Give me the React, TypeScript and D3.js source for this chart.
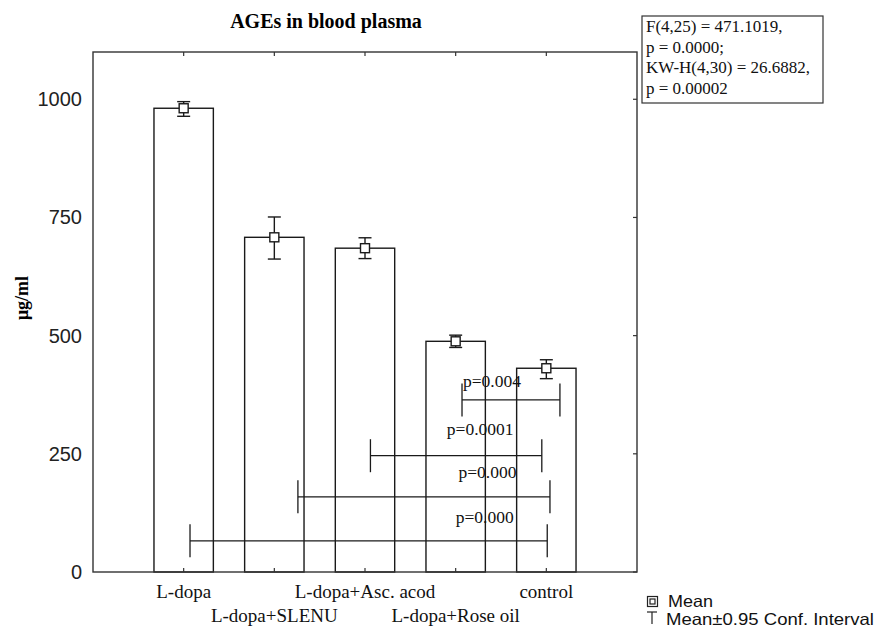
import { useEffect, useRef } from "react";
import * as d3 from "d3";

const width = 877;
const height = 632;
const marginTop = 52;
const marginBottom = 60;
const marginLeft = 93;
const marginRight = 240;

// groups, in axis order
const categories = ["L-dopa", "L-dopa+SLENU", "L-dopa+Asc. acod", "L-dopa+Rose oil", "control"];
const means = [981, 708, 685, 488, 431];
const ciLow = [964, 662, 663, 475, 409];
const ciHigh = [995, 751, 707, 501, 449];
const yTicks = [0, 250, 500, 750, 1000];

// significance brackets (positions on the 0..6 category axis)
const bracketFrom = [4.07, 3.06, 2.26, 1.07];
const bracketTo = [5.15, 4.95, 5.04, 5.01];
const bracketLevel = [364, 246, 159, 66];
const bracketLabel = ["p=0.004", "p=0.0001", "p=0.000", "p=0.000"];
const labelPos = [4.4, 4.27, 4.35, 4.32];
const labelLevel = [392, 290, 199, 104];

const statsLines = ["F(4,25) = 471.1019,", "p = 0.0000;", "KW-H(4,30) = 26.6882,", "p = 0.00002"];

const serif = "'Liberation Serif', 'Times New Roman', serif";
const sans = "'Liberation Sans', Arial, sans-serif";

export default function App() {
  const ref = useRef<SVGSVGElement>(null);

  useEffect(() => {
    const svg = d3.select(ref.current);
    svg.selectAll("*").remove();

    const x = d3.scaleLinear().domain([0, 6]).range([marginLeft, width - marginRight]);
    const y = d3.scaleLinear().domain([0, 1100]).range([height - marginBottom, marginTop]);
    const x0 = x(0), x1 = x(6), yb = y(0), yt = y(1100);
    const step = x(1) - x(0);
    const barW = step * 0.655;
    const ink = "#1a1a1a";

    // title
    svg.append("text")
      .attr("x", 326).attr("y", 28)
      .attr("text-anchor", "middle")
      .attr("font-family", serif).attr("font-weight", "bold").attr("font-size", 20)
      .text("AGEs in blood plasma");

    // bars
    const g = svg.append("g");
    categories.forEach((c, i) => {
      const cx = x(i + 1);
      g.append("rect")
        .attr("x", cx - barW / 2).attr("y", y(means[i]))
        .attr("width", barW).attr("height", yb - y(means[i]))
        .attr("fill", "#fff").attr("stroke", ink).attr("stroke-width", 1.4);
      // CI whisker
      g.append("line")
        .attr("x1", cx).attr("x2", cx).attr("y1", y(ciLow[i])).attr("y2", y(ciHigh[i]))
        .attr("stroke", ink).attr("stroke-width", 1.4);
      [ciLow[i], ciHigh[i]].forEach((v) => {
        g.append("line")
          .attr("x1", cx - 6.5).attr("x2", cx + 6.5).attr("y1", y(v)).attr("y2", y(v))
          .attr("stroke", ink).attr("stroke-width", 1.4);
      });
      g.append("rect")
        .attr("x", cx - 4.5).attr("y", y(means[i]) - 4.5)
        .attr("width", 9).attr("height", 9)
        .attr("fill", "#fff").attr("stroke", ink).attr("stroke-width", 1.4);
    });

    // brackets
    bracketFrom.forEach((f, i) => {
      const yy = y(bracketLevel[i]);
      const bg = svg.append("g").attr("stroke", ink).attr("stroke-width", 1.3);
      bg.append("line").attr("x1", x(f)).attr("x2", x(bracketTo[i])).attr("y1", yy).attr("y2", yy);
      [f, bracketTo[i]].forEach((p) => {
        bg.append("line").attr("x1", x(p)).attr("x2", x(p)).attr("y1", yy - 16.5).attr("y2", yy + 16.5);
      });
      svg.append("text")
        .attr("x", x(labelPos[i])).attr("y", y(labelLevel[i]))
        .attr("text-anchor", "middle")
        .attr("font-family", serif).attr("font-size", 17.5).attr("fill", "#111")
        .text(bracketLabel[i]);
    });

    // frame
    svg.append("rect")
      .attr("x", x0).attr("y", yt).attr("width", x1 - x0).attr("height", yb - yt)
      .attr("fill", "none").attr("stroke", "#333").attr("stroke-width", 1.4);

    // category ticks, top and bottom (inside)
    categories.forEach((c, i) => {
      const cx = x(i + 1);
      svg.append("line").attr("x1", cx).attr("x2", cx).attr("y1", yt).attr("y2", yt + 4)
        .attr("stroke", "#333").attr("stroke-width", 1.2);
      svg.append("line").attr("x1", cx).attr("x2", cx).attr("y1", yb).attr("y2", yb - 4)
        .attr("stroke", "#333").attr("stroke-width", 1.2);
      svg.append("text")
        .attr("x", cx).attr("y", i % 2 === 0 ? 598 : 622)
        .attr("text-anchor", "middle")
        .attr("font-family", serif).attr("font-size", 19).attr("fill", "#111")
        .text(c);
    });

    // y axis labels + right-side ticks
    yTicks.forEach((t) => {
      svg.append("text")
        .attr("x", 82).attr("y", y(t) + 7)
        .attr("text-anchor", "end")
        .attr("font-family", sans).attr("font-size", 20).attr("fill", "#222")
        .text(t);
      svg.append("line").attr("x1", x1).attr("x2", x1 - 4).attr("y1", y(t)).attr("y2", y(t))
        .attr("stroke", "#333").attr("stroke-width", 1.2);
    });

    svg.append("text")
      .attr("transform", "translate(28,298) rotate(-90)")
      .attr("text-anchor", "middle")
      .attr("font-family", serif).attr("font-weight", "bold").attr("font-size", 18)
      .text("μg/ml");

    // stats box
    svg.append("rect")
      .attr("x", 642).attr("y", 16).attr("width", 181).attr("height", 87)
      .attr("fill", "#fff").attr("stroke", "#333").attr("stroke-width", 1.2);
    statsLines.forEach((s, i) => {
      svg.append("text")
        .attr("x", 646).attr("y", 32 + i * 20.7)
        .attr("font-family", serif).attr("font-size", 17).attr("fill", "#111")
        .text(s);
    });

    // legend
    const lg = svg.append("g");
    lg.append("rect").attr("x", 647.5).attr("y", 596.5).attr("width", 10).attr("height", 10)
      .attr("fill", "none").attr("stroke", "#222").attr("stroke-width", 1.2);
    lg.append("rect").attr("x", 650).attr("y", 599).attr("width", 5).attr("height", 5)
      .attr("fill", "none").attr("stroke", "#222").attr("stroke-width", 1.2);
    lg.append("text").attr("x", 668).attr("y", 607)
      .attr("font-family", sans).attr("font-size", 16.5)
      .attr("textLength", 45).attr("lengthAdjust", "spacingAndGlyphs")
      .attr("fill", "#111").text("Mean");
    lg.append("line").attr("x1", 647).attr("x2", 657).attr("y1", 612).attr("y2", 612)
      .attr("stroke", "#222").attr("stroke-width", 1.2);
    lg.append("line").attr("x1", 652).attr("x2", 652).attr("y1", 612).attr("y2", 624)
      .attr("stroke", "#222").attr("stroke-width", 1.2);
    lg.append("text").attr("x", 666).attr("y", 625)
      .attr("font-family", sans).attr("font-size", 16.5)
      .attr("textLength", 208).attr("lengthAdjust", "spacingAndGlyphs")
      .attr("fill", "#111").text("Mean±0.95 Conf. Interval");
  }, []);

  return (
    <svg
      ref={ref}
      width={width}
      height={height}
      style={{ position: "absolute", left: 0, top: 0, background: "#fff" }}
    />
  );
}
